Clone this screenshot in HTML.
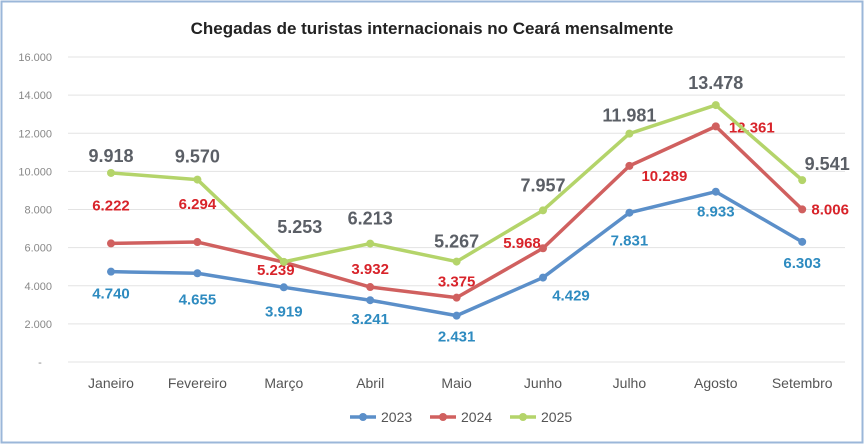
<!DOCTYPE html>
<html><head><meta charset="utf-8"><style>
body{margin:0;background:#fff}
svg{display:block;font-family:"Liberation Sans",sans-serif}
</style></head><body>
<svg id="c" width="864" height="444">
<rect x="1.5" y="1.5" width="861" height="441" fill="#fff" stroke="#9bb7d9" stroke-width="2"/>
<text x="432" y="34" text-anchor="middle" font-size="17" font-weight="bold" fill="#222">Chegadas de turistas internacionais no Ceará mensalmente</text>
</svg>
<script>
const categories=["Janeiro","Fevereiro","Março","Abril","Maio","Junho","Julho","Agosto","Setembro"];
const s2023=[4740,4655,3919,3241,2431,4429,7831,8933,6303];
const s2024=[6222,6294,5239,3932,3375,5968,10289,12361,8006];
const s2025=[9918,9570,5253,6213,5267,7957,11981,13478,9541];
const yTicks=[0,2000,4000,6000,8000,10000,12000,14000,16000];
const yTickLabels=["-","2.000","4.000","6.000","8.000","10.000","12.000","14.000","16.000"];
const off23=[[0,22],[0,26],[0,24],[0,19],[0,21],[28,18],[0,28],[0,20],[0,21]];
const off24=[[0,-38],[0,-38],[-8,8],[0,-18],[0,-16],[-21,-5],[35,10],[36,1],[28,0]];
const off25=[[0,-16],[0,-22],[16,-34],[0,-24],[0,-19],[0,-24],[0,-17],[0,-21],[25,-15]];
const svg=document.getElementById('c');const NS="http://www.w3.org/2000/svg";
const x=i=>111+i*86.4, y=v=>362-v*(305/16000);
function el(t,a,txt){const e=document.createElementNS(NS,t);for(const k in a)e.setAttribute(k,a[k]);if(txt!=null)e.textContent=txt;svg.appendChild(e);return e;}
yTicks.forEach((v,i)=>{
 const g=el('line',{x1:68,x2:845,y1:y(v),y2:y(v),stroke:'#e3e3e3','stroke-width':1});
 
 
 const t=el('text',{x:i==0?40:52,y:y(v)+4,'text-anchor':i==0?'middle':'end','font-size':11,fill:'#888'},yTickLabels[i]);
 
 
});
categories.forEach((c,i)=>{
 const t=el('text',{x:x(i),y:388,'text-anchor':'middle','font-size':14,fill:'#555'},c);
 
 
});
function series(d,col,lab,off,name,fs){
 const p=el('polyline',{points:d.map((v,i)=>x(i)+','+y(v)).join(' '),fill:'none',stroke:col,'stroke-width':3.5,'stroke-linejoin':'round'});
 
 
 d.forEach((v,i)=>{
  const m=el('circle',{cx:x(i),cy:y(v),r:4,fill:col});
  
  
  const t=el('text',{x:x(i)+off[i][0],y:y(v)+off[i][1]+5,'text-anchor':'middle','font-size':fs,'font-weight':'bold',fill:lab},v.toLocaleString('de-DE'));
  
  
 });
}
series(s2023,'#5b8fc9','#2e8bc0',off23,'2023',15);
series(s2024,'#d0605f','#d8232a',off24,'2024',15);
series(s2025,'#b4d46a','#5b5f66',off25,'2025',18);
[['2023','#5b8fc9',350],['2024','#d0605f',430],['2025','#b4d46a',510]].forEach(l=>{
 const ln=el('line',{x1:l[2],x2:l[2]+26,y1:417,y2:417,stroke:l[1],'stroke-width':3.5});
 
 
 const c=el('circle',{cx:l[2]+13,cy:417,r:4,fill:l[1]});
 
 
 const t=el('text',{x:l[2]+31,y:422,'font-size':14,fill:'#555'},l[0]);
 
 
});
</script>
</body></html>
